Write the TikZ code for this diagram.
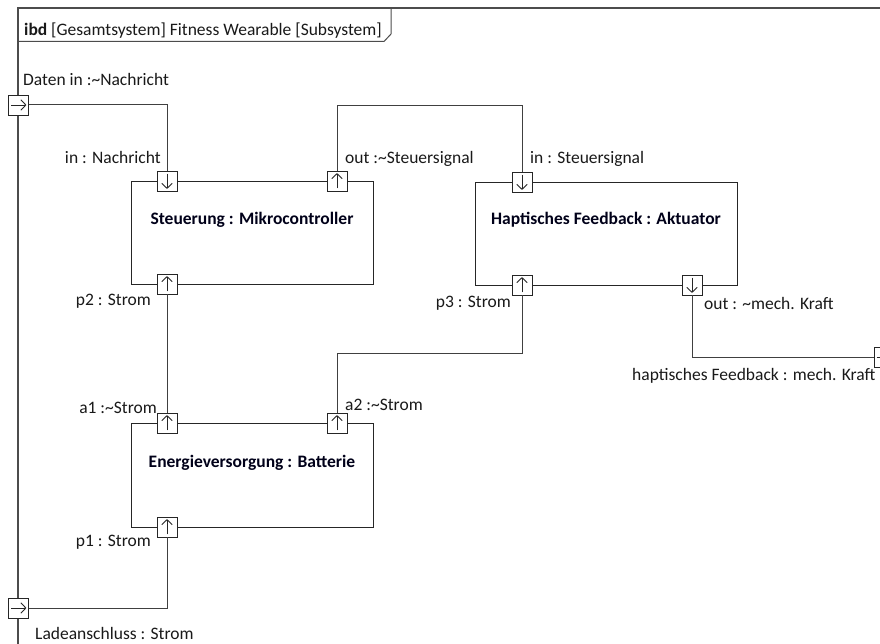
\documentclass[tikz,border=0pt]{standalone}
\usepackage{fontspec}
\setmainfont{Carlito}
\usetikzlibrary{arrows.meta}
\begin{document}
\begin{tikzpicture}[x=1pt,y=-1pt,
  lbl/.style={inner sep=0pt,font=\fontsize{17.5}{21}\selectfont,text=black!90},
  bname/.style={inner sep=0pt,font=\fontsize{17.5}{21}\selectfont\bfseries,text=black!90!blue},
  block/.style={draw=black!85,line width=0.9pt,fill=white},
  port/.style={draw=black!85,line width=0.9pt,fill=white,minimum size=20pt,inner sep=0pt},
  conn/.style={draw=black!75,line width=1pt},
  framel/.style={draw=black!70,line width=1.6pt},
  parr/.style={draw=black!85,line width=0.9pt,-{Straight Barb[length=5pt,width=10.5pt]}}]
\useasboundingbox (0,0) rectangle (880,644);
\clip (0,0) rectangle (880,644);
% frame
\draw[framel] (18,644) -- (18,8) -- (890,8);
\draw[draw=black!70,line width=1pt] (18,41.5) -- (384,41.5) -- (391,34) -- (391,8);
\node[lbl,anchor=base west] (title) at (24,35.5) {\textbf{ibd} [Gesamtsystem] Fitness Wearable [Subsystem]};
% blocks
\path[block] (131,181) rectangle (373,284);
\path[block] (475,182) rectangle (737,285);
\path[block] (131,423) rectangle (373,527);
\coordinate (ctrlC) at (252,225);
\coordinate (haC) at (606,225);
\coordinate (batC) at (252,467);
\node[bname,anchor=base] (ctrlN) at (ctrlC) {Steuerung : Mikrocontroller};
\node[bname,anchor=base] (haN) at (haC) {Haptisches Feedback : Aktuator};
\node[bname,anchor=base] (batN) at (batC) {Energieversorgung : Batterie};
% ports (positions)
\coordinate (ctrlInP) at (167,181);
\coordinate (ctrlOutP) at (337,181);
\coordinate (ctrlP2P) at (167,284);
\coordinate (haInP) at (522,182);
\coordinate (haP3P) at (522,285);
\coordinate (haOutP) at (692,285);
\coordinate (bA1P) at (167,423);
\coordinate (bA2P) at (337,423);
\coordinate (bP1P) at (167,527);
\coordinate (fDatenP) at (18.5,105);
\coordinate (fLadeP) at (18.5,608);
\coordinate (fHaptP) at (884,357);
\foreach \n in {ctrlIn,ctrlOut,ctrlP2,haIn,haP3,haOut,bA1,bA2,bP1,fDaten,fLade,fHapt}
  \node[port] (\n) at (\n P) {};
% connectors
\draw[conn] (fDaten.east) -| (ctrlIn.north);
\draw[conn] (ctrlOut.north) -- (ctrlOut.north |- 0,106) -| (haIn.north);
\draw[conn] (ctrlP2.south) -- (bA1.north);
\draw[conn] (haP3.south) -- (haP3.south |- 0,353) -| (bA2.north);
\draw[conn] (haOut.south) |- (fHapt.west);
\draw[conn] (bP1.south) |- (fLade.east);
% port arrows
\foreach \n in {ctrlIn,haIn,haOut}
  \draw[parr] ([yshift=-3pt]\n.north) -- ([yshift=2.5pt]\n.south);
\foreach \n in {ctrlOut,ctrlP2,haP3,bA1,bA2,bP1}
  \draw[parr] ([yshift=3pt]\n.south) -- ([yshift=-2.5pt]\n.north);
\foreach \n in {fDaten,fLade,fHapt}
  \draw[parr] ([xshift=3pt]\n.west) -- ([xshift=-2.5pt]\n.east);
% port labels
\node[lbl,anchor=base west] (lDaten) at (23,86) {Daten in :\textasciitilde Nachricht};
\node[lbl,anchor=base east] (lIn) at (161,164) {in : Nachricht};
\node[lbl,anchor=base west] (lOut) at (345,164) {out :\textasciitilde Steuersignal};
\node[lbl,anchor=base west] (lHaIn) at (530,164) {in : Steuersignal};
\node[lbl,anchor=base east] (lP2) at (151,305) {p2 : Strom};
\node[lbl,anchor=base east] (lP3) at (511,307) {p3 : Strom};
\node[lbl,anchor=base west] (lHaOut) at (704,309) {out : \textasciitilde mech. Kraft};
\node[lbl,anchor=base west] (lHapt) at (632,380) {haptisches Feedback : mech. Kraft};
\node[lbl,anchor=base east] (lA1) at (157,413) {a1 :\textasciitilde Strom};
\node[lbl,anchor=base west] (lA2) at (345,410) {a2 :\textasciitilde Strom};
\node[lbl,anchor=base east] (lP1) at (151,546) {p1 : Strom};
\node[lbl,anchor=base west] (lLade) at (35,639.5) {Ladeanschluss : Strom};
\end{tikzpicture}
\end{document}
